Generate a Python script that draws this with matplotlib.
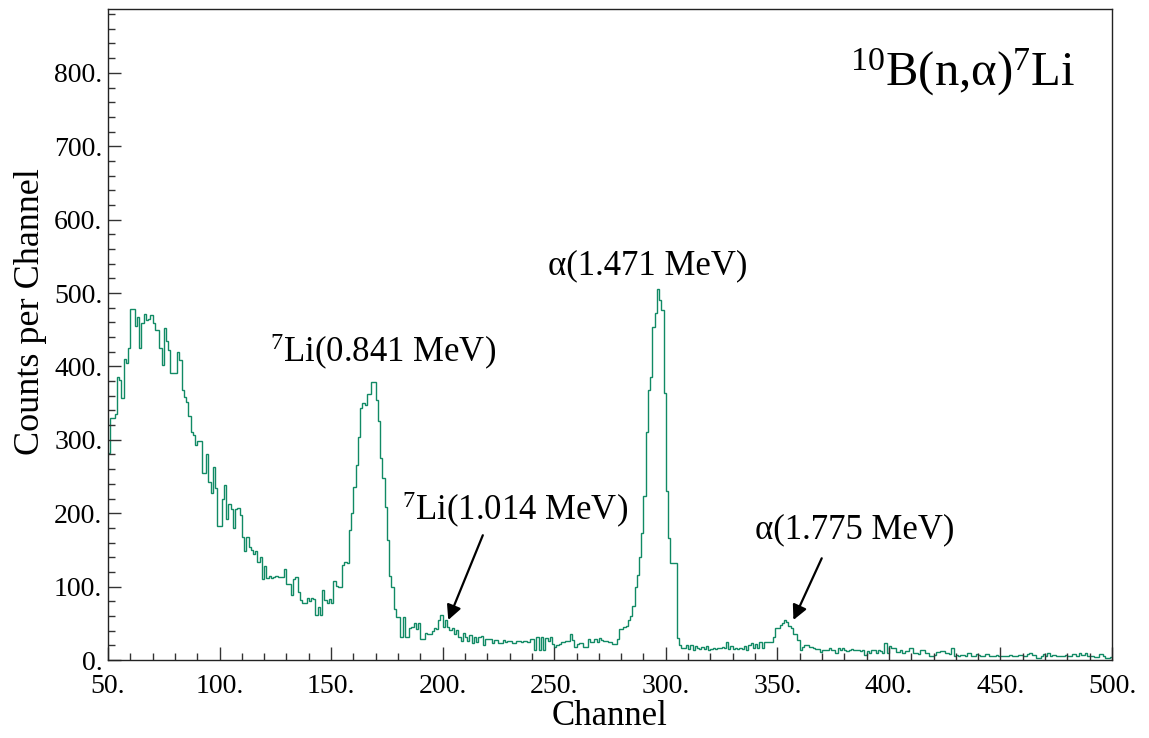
import numpy as np
import matplotlib
matplotlib.use('Agg')
import matplotlib.pyplot as plt
from matplotlib.ticker import MultipleLocator, FuncFormatter

plt.rcParams['font.family'] = ['Liberation Serif', 'DejaVu Serif']
plt.rcParams['mathtext.fontset'] = 'custom'
plt.rcParams['mathtext.rm'] = 'Liberation Serif'
plt.rcParams['mathtext.it'] = 'Liberation Serif:italic'

# counts per channel, one bin per channel
counts_050 = [282, 330, 330, 335, 385, 381, 357, 410, 405, 425,
              478, 478, 455, 468, 425, 459, 472, 463, 465, 470,
              459, 450, 450, 425, 402, 452, 434, 422, 391, 391,
              391, 420, 409, 368, 359, 351, 332, 311, 307, 293,
              298, 298, 255, 255, 280, 242, 227, 263, 235, 182]
counts_100 = [182, 220, 239, 192, 213, 206, 180, 206, 207, 198,
              168, 148, 168, 154, 150, 144, 148, 133, 141, 110,
              128, 112, 115, 112, 113, 114, 113, 113, 113, 124,
              104, 104, 89, 110, 113, 93, 82, 77, 77, 84,
              81, 85, 83, 61, 72, 61, 96, 82, 77, 83]
counts_150 = [77, 107, 101, 100, 100, 130, 133, 132, 177, 200,
              236, 266, 304, 343, 350, 348, 363, 363, 379, 379,
              354, 325, 275, 248, 209, 164, 114, 100, 70, 59,
              59, 32, 59, 32, 32, 43, 45, 50, 42, 50,
              28, 28, 37, 36, 36, 39, 43, 42, 54, 61]
counts_200 = [45, 55, 45, 41, 44, 36, 41, 32, 26, 37,
              32, 26, 34, 23, 32, 24, 32, 33, 20, 28,
              28, 28, 23, 27, 27, 23, 23, 27, 24, 26,
              26, 23, 23, 26, 26, 25, 26, 26, 25, 28,
              28, 14, 32, 14, 32, 14, 30, 26, 32, 22]
counts_250 = [18, 20, 22, 25, 25, 26, 26, 36, 27, 18,
              22, 23, 23, 18, 18, 28, 24, 24, 28, 24,
              30, 27, 26, 26, 25, 25, 22, 22, 28, 42,
              42, 45, 46, 54, 60, 73, 100, 116, 141, 173,
              223, 311, 368, 386, 454, 473, 505, 491, 477, 364]
counts_300 = [230, 166, 132, 132, 132, 30, 20, 16, 16, 20,
              15, 20, 14, 19, 16, 15, 18, 15, 19, 13,
              15, 17, 15, 17, 17, 18, 17, 24, 15, 19,
              15, 17, 15, 17, 15, 19, 13, 20, 23, 16,
              22, 16, 25, 16, 25, 25, 25, 25, 32, 43]
counts_350 = [43, 48, 51, 55, 52, 46, 44, 36, 36, 27,
              14, 18, 20, 20, 18, 18, 17, 15, 15, 11,
              13, 13, 14, 17, 13, 14, 10, 16, 14, 16,
              13, 12, 14, 15, 13, 14, 13, 12, 14, 7,
              12, 10, 13, 14, 10, 14, 12, 10, 23, 10]
counts_400 = [19, 16, 16, 11, 11, 14, 10, 12, 12, 16,
              16, 10, 10, 8, 13, 13, 10, 10, 6, 6,
              7, 11, 11, 12, 12, 10, 10, 8, 17, 6,
              7, 5, 7, 7, 6, 9, 9, 6, 6, 8,
              7, 5, 5, 8, 8, 6, 5, 5, 7, 6]
counts_450 = [5, 5, 5, 5, 7, 5, 5, 5, 7, 7,
              6, 6, 8, 9, 7, 7, 3, 3, 5, 8,
              6, 9, 6, 7, 7, 5, 5, 5, 5, 7,
              5, 5, 8, 8, 6, 9, 7, 7, 9, 6,
              5, 5, 4, 4, 8, 8, 6, 3, 3, 4]

counts = np.array(counts_050 + counts_100 + counts_150 + counts_200 + counts_250
                  + counts_300 + counts_350 + counts_400 + counts_450)
edges = np.arange(50, 50 + len(counts) + 1)

fig = plt.figure(figsize=(11.49, 7.38), dpi=100)
ax = fig.add_axes([108 / 1149, 78 / 738, 1004 / 1149, 651 / 738])

ax.stairs(counts, edges, baseline=None, color='#118a65', lw=1.0)

ax.set_xlim(50, 500)
ax.set_ylim(0, 887)

ax.xaxis.set_major_locator(MultipleLocator(50))
ax.xaxis.set_minor_locator(MultipleLocator(10))
ax.yaxis.set_major_locator(MultipleLocator(100))
ax.yaxis.set_minor_locator(MultipleLocator(20))
dotfmt = FuncFormatter(lambda v, p: '%d.' % int(round(v)))
ax.xaxis.set_major_formatter(dotfmt)
ax.yaxis.set_major_formatter(dotfmt)
ax.tick_params(which='both', direction='in', top=False, right=False, labelsize=20,
               color='#333333')
ax.tick_params(which='major', length=9.5, width=1)
ax.tick_params(which='minor', length=5, width=1)
ax.tick_params(axis='x', which='major', pad=10)
ax.tick_params(axis='y', which='major', pad=4)
for s in ax.spines.values():
    s.set_linewidth(1)
    s.set_color('#222222')

ax.set_xlabel('Channel', fontsize=25)
ax.xaxis.set_label_coords(0.5, -0.062)
ax.set_ylabel('Counts per Channel', fontsize=26)
ax.yaxis.set_label_coords(-0.061, 0.535)

ax.text(382.6, 783, r'$^{10}$B(n,α)$^{7}$Li', fontsize=35, va='baseline')
ax.text(122.6, 406, r'$^{7}$Li(0.841 MeV)', fontsize=25, va='baseline')
ax.text(181.8, 191, r'$^{7}$Li(1.014 MeV)', fontsize=25, va='baseline')
ax.text(247.2, 526, 'α(1.471 MeV)', fontsize=25, va='baseline')
ax.text(340, 166, 'α(1.775 MeV)', fontsize=25, va='baseline')

arrow = dict(arrowstyle='-|>', color='black', lw=1.6, mutation_scale=22, shrinkA=0, shrinkB=0)
ax.annotate('', xy=(202.5, 54.5), xytext=(218, 170), arrowprops=arrow)
ax.annotate('', xy=(357.2, 54.5), xytext=(369.9, 138.6), arrowprops=arrow)

fig.savefig('out.png', dpi=100)
